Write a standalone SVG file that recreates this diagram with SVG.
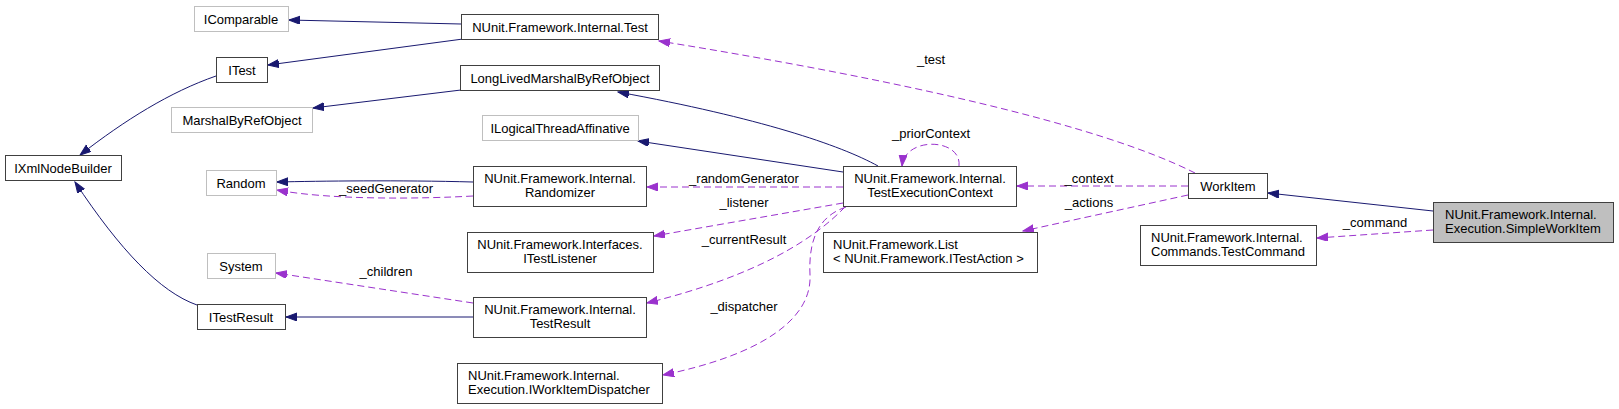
<svg xmlns="http://www.w3.org/2000/svg" width="1619" height="409" viewBox="0 0 1619 409">
<style>
text{font-family:"Liberation Sans",Arial,sans-serif;font-size:13px;fill:#000}
.c{text-anchor:middle}
.n rect{fill:#fff;stroke:#404040;stroke-width:1}
.g rect{fill:#fff;stroke:#bfbfbf;stroke-width:1}
.h rect{fill:#bfbfbf;stroke:#404040;stroke-width:1}
.inh{fill:none;stroke:#191970;stroke-width:1}
.use{fill:none;stroke:#9a32cd;stroke-width:1;stroke-dasharray:7,4}
</style>
<defs>
<marker id="an" markerUnits="userSpaceOnUse" markerWidth="12" markerHeight="10" refX="11" refY="4" orient="auto"><path d="M0,0 L11,4 L0,8 z" fill="#191970" stroke="#191970"/></marker>
<marker id="ap" markerUnits="userSpaceOnUse" markerWidth="12" markerHeight="10" refX="11" refY="4" orient="auto"><path d="M0,0 L11,4 L0,8 z" fill="#9a32cd" stroke="#9a32cd"/></marker>
</defs>
<rect width="1619" height="409" fill="#fff"/>
<g id="connectors">
<path class="inh" marker-end="url(#an)" d="M461,24 L289,20"/>
<path class="inh" marker-end="url(#an)" d="M463,39 L268,65"/>
<path class="inh" marker-end="url(#an)" d="M216,76 C170,92 125,120 80,155"/>
<path class="inh" marker-end="url(#an)" d="M197,305 C160,292 120,250 75,182"/>
<path class="inh" marker-end="url(#an)" d="M461,90 L313,108"/>
<path class="inh" marker-end="url(#an)" d="M878,166 C840,145 760,118 618,92"/>
<path class="inh" marker-end="url(#an)" d="M843,172 L638,141"/>
<path class="inh" marker-end="url(#an)" d="M473,182 C400,180 320,181 277,182"/>
<path class="inh" marker-end="url(#an)" d="M473,317 L286,317"/>
<path class="inh" marker-end="url(#an)" d="M1433,211 L1268,193"/>
<path class="use" marker-end="url(#ap)" d="M1195,173 C1100,125 900,80 659,41"/>
<path class="use" marker-end="url(#ap)" d="M959,166 C962,138 905,136 902,166"/>
<path class="use" marker-end="url(#ap)" d="M843,187 L647,187"/>
<path class="use" marker-end="url(#ap)" d="M473,196 C420,199 330,200 277,190"/>
<path class="use" marker-end="url(#ap)" d="M843,203 L654,236"/>
<path class="use" marker-end="url(#ap)" d="M845,207 C815,238 760,275 647,303"/>
<path class="use" marker-end="url(#ap)" d="M846,207 C822,215 808,235 810,275 C812,320 760,355 663,375"/>
<path class="use" marker-end="url(#ap)" d="M473,303 L276,273"/>
<path class="use" marker-end="url(#ap)" d="M1188,186 L1017,186"/>
<path class="use" marker-end="url(#ap)" d="M1188,195 L1023,231"/>
<path class="use" marker-end="url(#ap)" d="M1433,230 L1317,238"/>
<text class="c" x="931" y="64">_test</text>
<text class="c" x="931" y="138">_priorContext</text>
<text class="c" x="744" y="183">_randomGenerator</text>
<text class="c" x="744" y="207">_listener</text>
<text class="c" x="744" y="244">_currentResult</text>
<text class="c" x="744" y="311">_dispatcher</text>
<text class="c" x="386" y="193">_seedGenerator</text>
<text class="c" x="386" y="276">_children</text>
<text class="c" x="1089" y="183">_context</text>
<text class="c" x="1089" y="207">_actions</text>
<text class="c" x="1375" y="227">_command</text>
</g>
<g id="IComparable" class="g"><rect x="194.5" y="6.5" width="94" height="25"/><text class="c" x="241" y="23.5">IComparable</text></g>
<g id="Test" class="n"><rect x="461.5" y="14.5" width="197" height="25"/><text class="c" x="560" y="31.5">NUnit.Framework.Internal.Test</text></g>
<g id="ITest" class="n"><rect x="216.5" y="57.5" width="51" height="25"/><text class="c" x="242" y="74.5">ITest</text></g>
<g id="LongLivedMarshalByRefObject" class="n"><rect x="460.5" y="65.5" width="199" height="25"/><text class="c" x="560" y="82.5">LongLivedMarshalByRefObject</text></g>
<g id="MarshalByRefObject" class="g"><rect x="171.5" y="107.5" width="141" height="25"/><text class="c" x="242" y="124.5">MarshalByRefObject</text></g>
<g id="ILogicalThreadAffinative" class="g"><rect x="482.5" y="115.5" width="156" height="25"/><text class="c" x="560" y="132.5">ILogicalThreadAffinative</text></g>
<g id="IXmlNodeBuilder" class="n"><rect x="5.5" y="155.5" width="116" height="25"/><text class="c" x="63" y="172.5">IXmlNodeBuilder</text></g>
<g id="Random" class="g"><rect x="206.5" y="170.5" width="70" height="25"/><text class="c" x="241" y="187.5">Random</text></g>
<g id="Randomizer" class="n"><rect x="473.5" y="166.5" width="173" height="40"/><text class="c" x="560" y="183">NUnit.Framework.Internal.</text><text class="c" x="560" y="197">Randomizer</text></g>
<g id="TestExecutionContext" class="n"><rect x="843.5" y="166.5" width="173" height="40"/><text class="c" x="930" y="183">NUnit.Framework.Internal.</text><text class="c" x="930" y="197">TestExecutionContext</text></g>
<g id="WorkItem" class="n"><rect x="1188.5" y="173.5" width="79" height="25"/><text class="c" x="1228" y="190.5">WorkItem</text></g>
<g id="SimpleWorkItem" class="h"><rect x="1433.5" y="202.5" width="180" height="40"/><text x="1445" y="219">NUnit.Framework.Internal.</text><text x="1445" y="233">Execution.SimpleWorkItem</text></g>
<g id="TestCommand" class="n"><rect x="1140.5" y="225.5" width="176" height="40"/><text x="1151" y="242">NUnit.Framework.Internal.</text><text x="1151" y="256">Commands.TestCommand</text></g>
<g id="List" class="n"><rect x="823.5" y="232.5" width="214" height="40"/><text x="833" y="249">NUnit.Framework.List</text><text x="833" y="263">&lt; NUnit.Framework.ITestAction &gt;</text></g>
<g id="ITestListener" class="n"><rect x="467.5" y="232.5" width="186" height="40"/><text class="c" x="560" y="249">NUnit.Framework.Interfaces.</text><text class="c" x="560" y="263">ITestListener</text></g>
<g id="System" class="g"><rect x="207.5" y="253.5" width="68" height="25"/><text class="c" x="241" y="270.5">System</text></g>
<g id="ITestResult" class="n"><rect x="197.5" y="304.5" width="88" height="25"/><text class="c" x="241" y="321.5">ITestResult</text></g>
<g id="TestResult" class="n"><rect x="473.5" y="297.5" width="173" height="40"/><text class="c" x="560" y="314">NUnit.Framework.Internal.</text><text class="c" x="560" y="328">TestResult</text></g>
<g id="IWorkItemDispatcher" class="n"><rect x="457.5" y="363.5" width="205" height="40"/><text x="468" y="380">NUnit.Framework.Internal.</text><text x="468" y="394">Execution.IWorkItemDispatcher</text></g>
</svg>
